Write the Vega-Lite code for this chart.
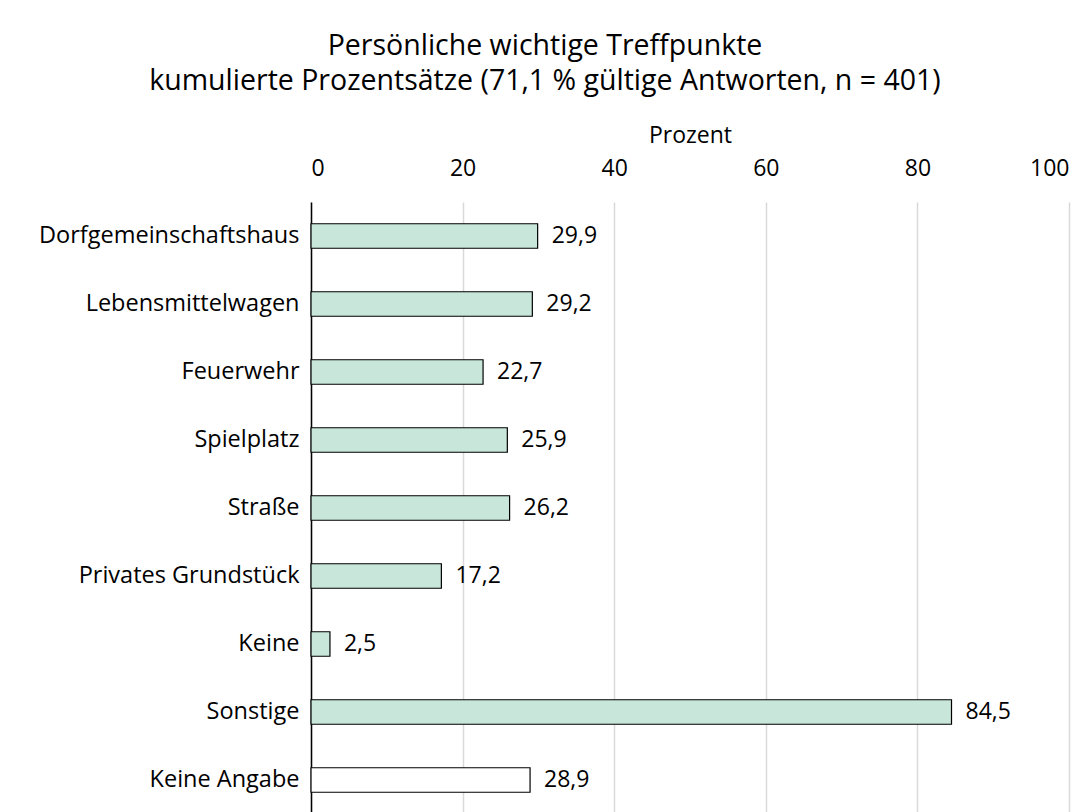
{
  "$schema": "https://vega.github.io/schema/vega-lite/v6.json",
  "width": 758,
  "height": 612,
  "autosize": {"type": "none"},
  "padding": {"left": 311, "top": 202, "right": 21, "bottom": 0},
  "background": "white",
  "config": {
    "font": "Open Sans",
    "view": {"stroke": null},
    "locale": {"number": {"decimal": ",", "thousands": ".", "grouping": [3], "currency": ["", " €"]}}
  },
  "title": {
    "text": ["Persönliche wichtige Treffpunkte", "kumulierte Prozentsätze (71,1 % gültige Antworten, n = 401)"],
    "fontSize": 28.5,
    "fontWeight": "normal",
    "color": "black",
    "anchor": "middle",
    "dx": -145,
    "offset": 29,
    "lineHeight": 35
  },
  "data": {
    "values": [
      {"Kategorie": "Dorfgemeinschaftshaus", "Prozent": 29.9},
      {"Kategorie": "Lebensmittelwagen", "Prozent": 29.2},
      {"Kategorie": "Feuerwehr", "Prozent": 22.7},
      {"Kategorie": "Spielplatz", "Prozent": 25.9},
      {"Kategorie": "Straße", "Prozent": 26.2},
      {"Kategorie": "Privates Grundstück", "Prozent": 17.2},
      {"Kategorie": "Keine", "Prozent": 2.5},
      {"Kategorie": "Sonstige", "Prozent": 84.5},
      {"Kategorie": "Keine Angabe", "Prozent": 28.9}
    ]
  },
  "encoding": {
    "y": {
      "field": "Kategorie",
      "type": "nominal",
      "sort": null,
      "scale": {"paddingInner": 0.64, "paddingOuter": 0.32},
      "axis": {
        "title": null,
        "ticks": false,
        "domainColor": "black",
        "domainWidth": 1.5,
        "labelFontSize": 23.5,
        "labelColor": "black",
        "labelPadding": 12,
        "labelLimit": 400
      }
    },
    "x": {
      "field": "Prozent",
      "type": "quantitative",
      "scale": {"domain": [0, 100]},
      "axis": {
        "orient": "top",
        "values": [0, 20, 40, 60, 80, 100],
        "title": "Prozent",
        "titleFontSize": 23,
        "titleFontWeight": "normal",
        "titleColor": "black",
        "titlePadding": 10,
        "labelFontSize": 23,
        "labelColor": "black",
        "labelPadding": 22,
        "ticks": false,
        "domain": false,
        "grid": true,
        "gridColor": "#d9d9d9",
        "gridWidth": 1.5
      }
    }
  },
  "layer": [
    {
      "mark": {"type": "bar", "stroke": "black", "strokeWidth": 1.2},
      "encoding": {
        "fill": {
          "condition": {"test": "datum.Kategorie === 'Keine Angabe'", "value": "white"},
          "value": "#c9e6da"
        }
      }
    },
    {
      "mark": {"type": "text", "align": "left", "baseline": "middle", "dx": 14, "fontSize": 23, "color": "black"},
      "encoding": {
        "text": {"field": "Prozent", "type": "quantitative", "format": ".1f"}
      }
    }
  ]
}
